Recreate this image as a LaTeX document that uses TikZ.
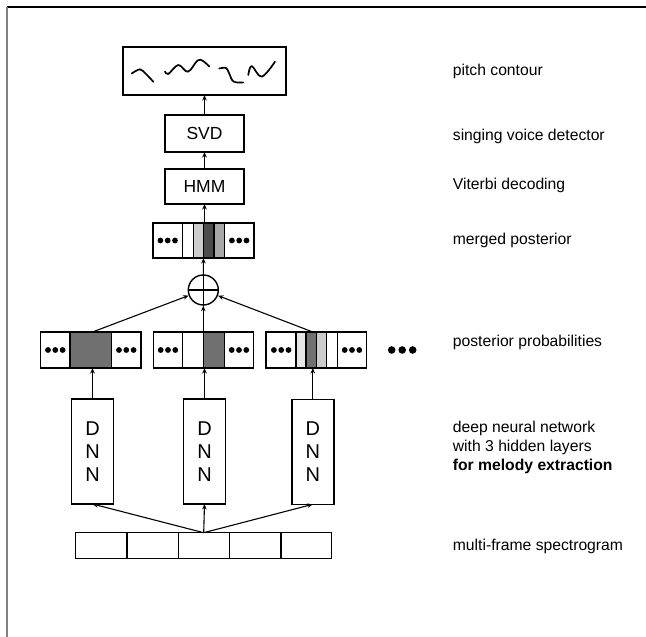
\documentclass[tikz,border=0pt]{standalone}
\usepackage{fontspec}
\setmainfont{Liberation Sans}
\usetikzlibrary{arrows.meta,calc}
\definecolor{cdark}{gray}{0.44}
\definecolor{cdarker}{gray}{0.30}
\definecolor{clight}{gray}{0.90}
\definecolor{cmidl}{gray}{0.80}
\definecolor{cmid}{gray}{0.66}
\definecolor{framegray}{gray}{0.5}
\begin{document}
\begin{tikzpicture}[x=1pt,y=-1pt,
  bx/.style={draw, line width=1.5pt, inner sep=0pt, outer sep=0pt},
  conn/.style={line width=1.1pt, -{Stealth[length=5.5pt,width=4.5pt]}},
  lbl/.style={anchor=west, inner sep=0pt, font=\fontsize{15.7pt}{19.2pt}\selectfont, align=left},
  dotsp/.pic={\fill (-7.3pt,0) circle (2.9pt) (0,0) circle (2.9pt) (7.3pt,0) circle (2.9pt);},
  contour/.style={line width=1.7pt, line cap=round, line join=round},
  dnn/.style={bx, minimum width=42pt, minimum height=105pt, align=center, font=\fontsize{20pt}{23.3pt}\selectfont}]
\useasboundingbox (0,0) rectangle (646,637);
% frame
\draw[line width=1.4pt] (6.5,7) -- (646,7);
\draw[framegray, line width=1.6pt] (7,7) -- (7,637);

% pitch contour box
\node[bx, minimum width=163pt, minimum height=48pt] (pc) at (204.5,71) {};
\draw[contour] plot[smooth] coordinates {(131.7,73.5) (140,69.3) (146,74) (153.3,81.7)};
\draw[contour] plot[smooth, tension=0.6] coordinates {(165,71.5) (168.3,74) (178.3,65) (188,71.7) (197.5,60.5) (203,61) (209.3,66.5)};
\draw[contour] plot[smooth, tension=0.6] coordinates {(219.3,68.5) (226,68) (229,73) (233.5,81.5) (243.3,82.5)};
\draw[contour] plot[smooth, tension=0.6] coordinates {(248.3,75) (251.7,66) (261.7,76.7) (275,61.7)};

% SVD, HMM
\node[bx, minimum width=79pt, minimum height=37pt, font=\fontsize{17.5pt}{20pt}\selectfont] (svd) at (204.5,133.5) {SVD};
\node[bx, minimum width=79pt, minimum height=35pt, font=\fontsize{17.5pt}{20pt}\selectfont] (hmm) at (204.5,186.5) {HMM};

% merged posterior
\fill[cmidl] (193.3,223) rectangle (203.3,258);
\fill[cdarker] (203.3,223) rectangle (214,258);
\fill[cmid] (214,223) rectangle (224.3,258);
\foreach \xx in {182.3,193.3,203.3,214,224.3} \draw[line width=1.3pt] (\xx,223) -- (\xx,258);
\node[bx, minimum width=101pt, minimum height=35pt] (merged) at (203.5,240.5) {};
\pic at (167.7,240.5) {dotsp};
\pic at (239.2,240.5) {dotsp};

% sum
\node[draw, circle, line width=1.4pt, minimum size=30pt, inner sep=0pt] (sum) at (203.3,290) {};
\draw[line width=1.4pt] (sum.north) -- (sum.south) (sum.west) -- (sum.east);

% posterior boxes
\fill[cdark] (70,332) rectangle (111.7,368);
\foreach \xx in {70,111.7} \draw[line width=1.3pt] (\xx,332) -- (\xx,368);
\node[bx, minimum width=100.3pt, minimum height=36pt] (post1) at (90.85,350) {};
\pic at (55.3,350) {dotsp};
\pic at (126.3,350) {dotsp};

\fill[cdark] (203.3,332) rectangle (224.7,368);
\foreach \xx in {182.7,203.3,224.7} \draw[line width=1.3pt] (\xx,332) -- (\xx,368);
\node[bx, minimum width=100pt, minimum height=36pt] (post2) at (203.3,350) {};
\pic at (168,350) {dotsp};
\pic at (239,350) {dotsp};

\fill[clight] (296,332) rectangle (306,368);
\fill[cdark] (306,332) rectangle (316.7,368);
\fill[cmidl] (316.7,332) rectangle (326.7,368);
\foreach \xx in {296,306,316.7,326.7,337.3} \draw[line width=1.3pt] (\xx,332) -- (\xx,368);
\node[bx, minimum width=100.7pt, minimum height=36pt] (post3) at (316.35,350) {};
\pic at (281.2,350) {dotsp};
\pic at (352,350) {dotsp};

% big dots
\fill (391.7,350) circle (3.8pt) (402.2,350) circle (3.8pt) (412.7,350) circle (3.8pt);

% DNNs
\node[dnn] (dnn1) at (92.5,451.5) {D\\N\\N};
\node[dnn] (dnn2) at (204.5,451.5) {D\\N\\N};
\node[dnn] (dnn3) at (312.8,451.8) {D\\N\\N};

% spectrogram
\node[bx, minimum width=256pt, minimum height=25.6pt] (spec) at (203.7,545.5) {};
\foreach \xx in {127,178.5,229.5,281} \draw[line width=1.3pt] (\xx,532.7) -- (\xx,558.3);

% connectors
\draw[conn] (spec.north) -- (dnn1.south);
\draw[conn] (spec.north) -- (dnn2.south);
\draw[conn] (spec.north) -- (dnn3.south);
\draw[conn] (dnn1.north) -- (dnn1.north |- post1.south);
\draw[conn] (dnn2.north) -- (dnn2.north |- post2.south);
\draw[conn] (dnn3.north) -- (dnn3.north |- post3.south);
\draw[conn] (dnn1.north |- post1.north) -- (sum);
\draw[conn] (post2.north) -- (sum.south);
\draw[conn] (dnn3.north |- post3.north) -- (sum);
\draw[conn] (sum.north) -- (merged.south);
\draw[conn] (merged.north -| hmm.south) -- (hmm.south);
\draw[conn] (hmm.north) -- (svd.south);
\draw[conn] (svd.north) -- (pc.south);

% labels
\node[lbl] (l1) at (452.7,71.7) {pitch contour};
\node[lbl] (l2) at (452.7,136.7) {singing voice detector};
\node[lbl] (l3) at (452.7,185) {Viterbi decoding};
\node[lbl] (l4) at (452.7,240) {merged posterior};
\node[lbl] (l5) at (452.7,342.7) {posterior probabilities};
\node[lbl] (l6) at (452.7,447.6) {deep neural network\\with 3 hidden layers\\\textbf{for melody extraction}};
\node[lbl] (l7) at (452.7,546) {multi-frame spectrogram};
\end{tikzpicture}
\end{document}
